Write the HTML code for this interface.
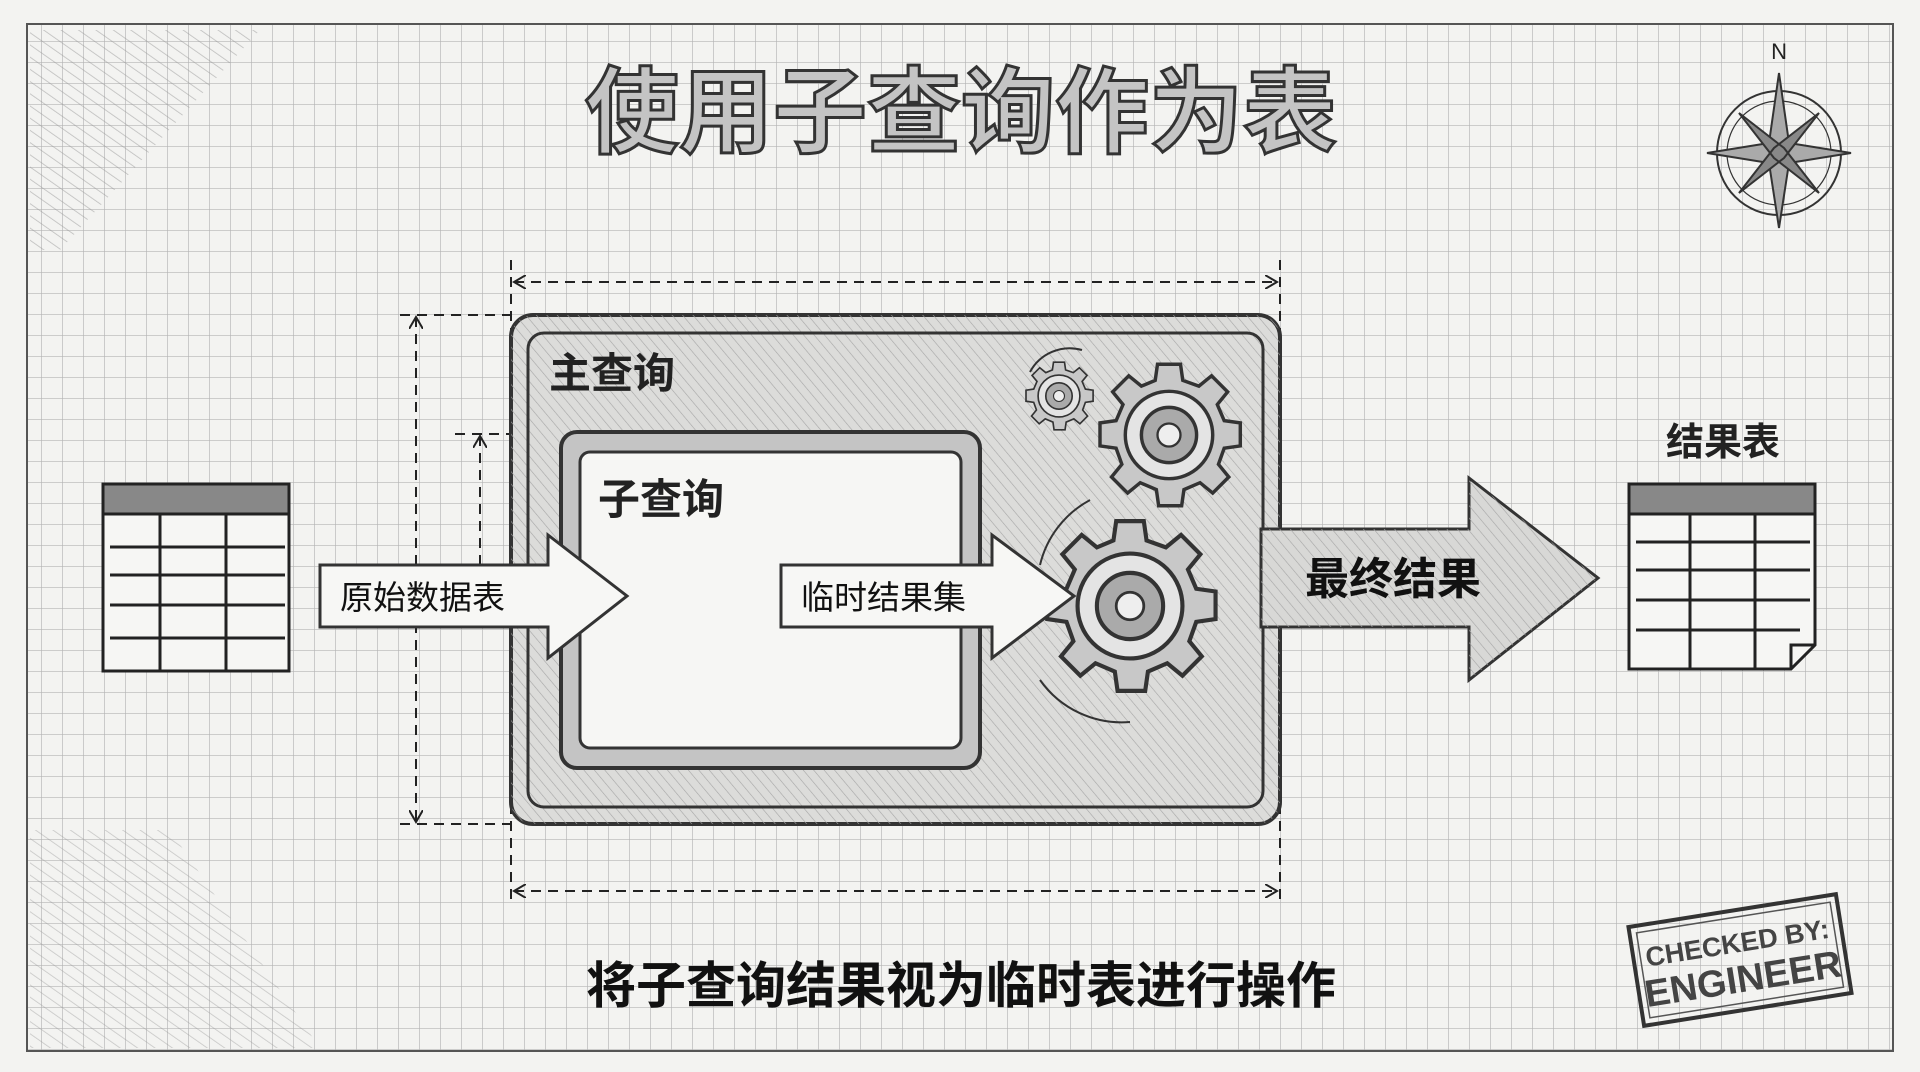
<!DOCTYPE html>
<html><head><meta charset="utf-8"><style>
html,body{margin:0;padding:0;background:#f3f3f1;}
svg{display:block}
text{font-family:"Liberation Sans","Noto Sans CJK SC",sans-serif;}
</style></head><body>
<svg width="1920" height="1072" viewBox="0 0 1920 1072" xmlns="http://www.w3.org/2000/svg">
<defs>
<pattern id="grid" width="21" height="21" patternUnits="userSpaceOnUse">
<path d="M21 0V21H0" fill="none" stroke="#b4b4b4" stroke-width="1.3"/>
</pattern>
<pattern id="hatch" width="8" height="8" patternUnits="userSpaceOnUse" patternTransform="rotate(-40)">
<line x1="0" y1="0" x2="0" y2="8" stroke="#a5a5a5" stroke-width="1.2"/>
</pattern>
<pattern id="hatch2" width="10" height="10" patternUnits="userSpaceOnUse" patternTransform="rotate(-55)">
<line x1="0" y1="0" x2="0" y2="10" stroke="#999" stroke-width="1.6"/>
</pattern>
<marker id="ah" markerWidth="14" markerHeight="14" refX="12" refY="7" orient="auto-start-reverse" markerUnits="userSpaceOnUse">
<path d="M0 0L12 7L0 14" fill="none" stroke="#222" stroke-width="2"/>
</marker>
<g id="gear">
<path d="M-10,-70 L10,-70 L12,-56 L26,-51 L37,-60 L51,-46 L42,-35 L48,-21 L62,-19 L62,1 L48,3 L43,17 L52,28 L38,42 L27,33 L13,39 L11,53 L-9,53 L-11,39 L-25,33 L-36,42 L-50,28 L-41,17 L-46,3 L-60,1 L-60,-19 L-46,-21 L-40,-35 L-49,-46 L-35,-60 L-24,-51 L-12,-56 Z" transform="translate(0,8.5)" fill="#c8c8c8" stroke="#333" stroke-width="3"/>
<circle r="38" fill="#e4e4e4" stroke="#333" stroke-width="3"/>
<circle r="24" fill="#aaa" stroke="#333" stroke-width="3"/>
<circle r="10" fill="#eee" stroke="#333" stroke-width="2"/>
</g>
</defs>
<rect width="1920" height="1072" fill="#f3f3f1"/>
<rect x="27" y="24" width="1866" height="1027" fill="url(#grid)"/>
<rect x="27" y="24" width="1866" height="1027" fill="none" stroke="#555" stroke-width="2"/>
<path d="M30 30 L260 30 L60 250 L30 250Z" fill="url(#hatch2)" opacity="0.6"/>
<path d="M30 830 L170 830 L320 1048 L30 1048Z" fill="url(#hatch2)" opacity="0.5"/>

<!-- title -->
<text x="961" y="145" text-anchor="middle" font-size="94" font-weight="bold" fill="#c4c4c4" stroke="#333" stroke-width="3">使用子查询作为表</text>

<!-- compass -->
<g transform="translate(1779,153)" stroke="#333" stroke-width="2">
<circle r="62" fill="none"/><circle r="52" fill="none" stroke-width="1.2"/>
<path d="M0,-80 L10,-10 L72,0 L10,10 L0,75 L-10,10 L-72,0 L-10,-10Z" fill="#aaa"/>
<path d="M-40,-40 L5,-5 L40,40 L-5,5Z M40,-40 L5,5 L-40,40 L-5,-5Z" fill="#888"/>
<text x="0" y="-94" text-anchor="middle" font-size="22" stroke="none" fill="#222">N</text>
</g>

<!-- dimension lines -->
<g stroke="#222" stroke-width="2" stroke-dasharray="10 7" fill="none">
<line x1="511" y1="260" x2="511" y2="906"/>
<line x1="1280" y1="260" x2="1280" y2="906"/>
<line x1="514" y1="282" x2="1277" y2="282" marker-start="url(#ah)" marker-end="url(#ah)"/>
<line x1="514" y1="891" x2="1277" y2="891" marker-start="url(#ah)" marker-end="url(#ah)"/>
<line x1="400" y1="315" x2="511" y2="315"/>
<line x1="400" y1="824" x2="511" y2="824"/>
<line x1="416" y1="317" x2="416" y2="822" marker-start="url(#ah)" marker-end="url(#ah)"/>
<line x1="455" y1="434" x2="560" y2="434"/>
<line x1="480" y1="436" x2="480" y2="565" marker-start="url(#ah)"/>
</g>

<!-- main box -->
<rect x="511" y="315" width="769" height="509" rx="22" fill="#dcdcda" stroke="#333" stroke-width="4"/>
<rect x="511" y="315" width="769" height="509" rx="22" fill="url(#hatch)"/>
<rect x="528" y="333" width="735" height="474" rx="16" fill="none" stroke="#333" stroke-width="3"/>
<text x="549" y="388" font-size="42" font-weight="bold" fill="#222">主查询</text>
<!-- inner box -->
<rect x="561" y="432" width="419" height="336" rx="16" fill="#c4c4c4" stroke="#333" stroke-width="4"/>
<rect x="580" y="452" width="381" height="296" rx="10" fill="#f6f6f4" stroke="#333" stroke-width="3"/>
<text x="598" y="514" font-size="42" font-weight="bold" fill="#222">子查询</text>

<!-- gears -->
<use href="#gear" transform="translate(1059,396) scale(0.55)"/>
<use href="#gear" transform="translate(1169,435) scale(1.15)"/>
<use href="#gear" transform="translate(1130,606) scale(1.38)"/>
<path d="M1030,372 A45 45 0 0 1 1082,350" fill="none" stroke="#333" stroke-width="2"/>
<path d="M1040,565 A100 100 0 0 1 1090,500" fill="none" stroke="#333" stroke-width="2"/>
<path d="M1040,680 A100 100 0 0 0 1130,722" fill="none" stroke="#333" stroke-width="2"/>

<!-- arrows -->
<path d="M320,565 L548,565 L548,535 L627,596 L548,658 L548,627 L320,627Z" fill="#f7f7f5" stroke="#333" stroke-width="3"/>
<text x="340" y="609" font-size="33" fill="#111">原始数据表</text>
<path d="M781,565 L992,565 L992,535 L1074,596 L992,658 L992,627 L781,627Z" fill="#f7f7f5" stroke="#333" stroke-width="3"/>
<text x="801" y="609" font-size="33" fill="#111">临时结果集</text>
<path d="M1261,529 L1469,529 L1469,478 L1598,578 L1469,680 L1469,627 L1261,627Z" fill="#d8d8d6" stroke="#333" stroke-width="3"/>
<path d="M1261,529 L1469,529 L1469,478 L1598,578 L1469,680 L1469,627 L1261,627Z" fill="url(#hatch)"/>
<text x="1305" y="594" font-size="44" font-weight="bold" fill="#111">最终结果</text>

<!-- left table -->
<g stroke="#222" stroke-width="3" fill="none">
<rect x="103" y="484" width="186" height="187" fill="#f6f6f4"/>
<rect x="103" y="484" width="186" height="30" fill="#888"/>
<line x1="110" y1="547" x2="285" y2="547"/><line x1="110" y1="575" x2="285" y2="575"/>
<line x1="110" y1="605" x2="285" y2="605"/><line x1="110" y1="638" x2="285" y2="638"/>
<line x1="160" y1="514" x2="160" y2="671"/><line x1="226" y1="514" x2="226" y2="671"/>
</g>
<!-- right table -->
<text x="1723" y="455" text-anchor="middle" font-size="38" font-weight="bold" fill="#222">结果表</text>
<g stroke="#222" stroke-width="3" fill="none">
<path d="M1629,484 H1815 V645 L1791,669 H1629Z" fill="#f6f6f4"/>
<rect x="1629" y="484" width="186" height="30" fill="#888"/>
<path d="M1791,669 L1791,645 L1815,645"/>
<line x1="1636" y1="542" x2="1810" y2="542"/><line x1="1636" y1="570" x2="1810" y2="570"/>
<line x1="1636" y1="600" x2="1810" y2="600"/><line x1="1636" y1="630" x2="1800" y2="630"/>
<line x1="1690" y1="514" x2="1690" y2="669"/><line x1="1755" y1="514" x2="1755" y2="669"/>
</g>

<!-- bottom caption -->
<text x="961" y="1003" text-anchor="middle" font-size="50" font-weight="bold" fill="#111">将子查询结果视为临时表进行操作</text>

<!-- stamp -->
<g transform="translate(1740,960) rotate(-9)">
<rect x="-105" y="-50" width="210" height="100" fill="none" stroke="#333" stroke-width="4"/>
<rect x="-98" y="-43" width="196" height="86" fill="none" stroke="#555" stroke-width="1.5"/>
<text x="0" y="-8" text-anchor="middle" font-size="27" font-weight="bold" fill="#444">CHECKED BY:</text>
<text x="0" y="32" text-anchor="middle" font-size="38" font-weight="bold" fill="#444">ENGINEER</text>
</g>
</svg>
</body></html>
